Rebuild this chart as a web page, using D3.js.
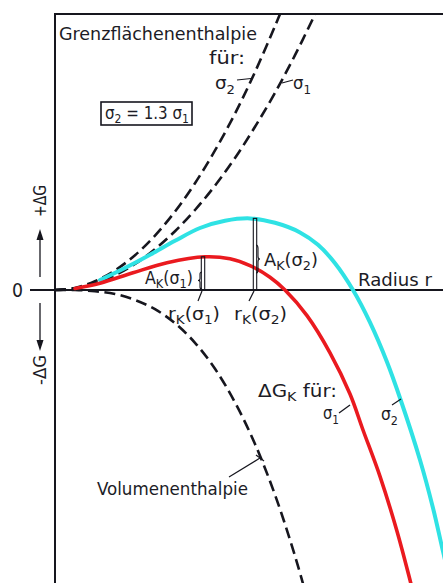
<!DOCTYPE html>
<html><head><meta charset="utf-8">
<script src="https://cdn.jsdelivr.net/npm/d3@7"></script>
<style>
html,body{margin:0;padding:0;background:#fff;}
svg{display:block;}
text{font-family:"DejaVu Sans Condensed","Liberation Sans Narrow","DejaVu Sans",sans-serif;fill:#1c1c26;}
</style></head><body>
<svg id="chart" width="443" height="583"></svg>
<script>
// Nucleation: free enthalpy ΔG versus nucleus radius r (arbitrary units)

// Interface (surface) enthalpy for σ1 and σ2 = 1.3 σ1
const rSurface1 = [0, 0.5, 1, 1.5, 2, 2.5, 3, 3.5, 4, 4.5, 5, 5.5, 6, 6.5, 6.7];
const surfaceSigma1 = [0, 0.04, 0.16, 0.37, 0.65, 1.02, 1.47, 2.0, 2.61, 3.3, 4.08, 4.93, 5.87, 6.89, 7.3];
const rSurface2 = [0, 0.5, 1, 1.5, 2, 2.5, 3, 3.5, 4, 4.5, 5, 5.5, 5.75];
const surfaceSigma2 = [0, 0.05, 0.22, 0.49, 0.87, 1.36, 1.96, 2.67, 3.49, 4.41, 5.45, 6.6, 7.2];

// Volume enthalpy (negative)
const rVolume = [0, 0.5, 1, 1.5, 2, 2.5, 3, 3.5, 4, 4.5, 5, 5.5, 6, 6.3];
const volumeEnthalpy = [0, 0, -0.03, -0.1, -0.25, -0.48, -0.83, -1.32, -1.97, -2.81, -3.85, -5.12, -6.65, -7.7];

// Total ΔG_K for σ1
const rNet1 = [0.5, 1.125, 1.95, 2.8, 3.75, 4.375, 4.875, 5.375, 5.75, 6.3, 6.875, 7.375, 7.7, 8.125, 8.55, 8.875, 9.0];
const netSigma1 = [0.04, 0.17, 0.43, 0.68, 0.83, 0.78, 0.61, 0.32, 0, -0.64, -1.57, -2.6, -3.5, -4.66, -6.03, -7.25, -7.75];

// Total ΔG_K for σ2
const rNet2 = [1.125, 1.75, 2.375, 3.0, 3.625, 4.25, 4.875, 5.5, 6.125, 6.575, 7.0, 7.45, 7.875, 8.3, 8.625, 9.125, 9.45, 9.675, 9.875];
const netSigma2 = [0.25, 0.55, 0.88, 1.23, 1.55, 1.73, 1.79, 1.68, 1.44, 1.13, 0.67, 0, -0.81, -1.8, -2.7, -4.25, -5.45, -6.425, -7.3];

// Critical radius r_K and activation barrier A_K for σ1, σ2
const rCritical = [3.7, 5.0];
const aCritical = [0.83, 1.79];

const svg = d3.select("#chart");
const x = d3.scaleLinear().domain([0, 9.7]).range([55, 443]);
const y = d3.scaleLinear().domain([-7.325, 6.9]).range([583, 14]);

svg.append("clipPath").attr("id", "plot")
  .append("rect").attr("x", x(0)).attr("y", y(6.9)).attr("width", x(9.7) - x(0)).attr("height", y(-7.325) - y(6.9));

const line = d3.line().x(d => x(d[0])).y(d => y(d[1])).curve(d3.curveCatmullRom.alpha(0.5));
const zip = (a, b) => a.map((v, i) => [v, b[i]]);

const ink = "#16161e";

// frame: top edge, left axis, zero line
svg.append("line").attr("x1", x(0)).attr("x2", 443).attr("y1", y(6.9)).attr("y2", y(6.9))
  .attr("stroke", ink).attr("stroke-width", 2);
svg.append("line").attr("x1", x(0)).attr("x2", x(0)).attr("y1", y(6.9) - 1).attr("y2", 583)
  .attr("stroke", ink).attr("stroke-width", 2);
svg.append("line").attr("x1", 30).attr("x2", 443).attr("y1", y(0)).attr("y2", y(0))
  .attr("stroke", ink).attr("stroke-width", 1.8);

const curves = svg.append("g").attr("clip-path", "url(#plot)");

// dashed component curves
[[rSurface1, surfaceSigma1], [rSurface2, surfaceSigma2], [rVolume, volumeEnthalpy]].forEach(([rs, gs]) => {
  curves.append("path").attr("d", line(zip(rs, gs)))
    .attr("fill", "none").attr("stroke", ink).attr("stroke-width", 2.6)
    .attr("stroke-dasharray", "11,5.5");
});

// A_K markers (double vertical lines from the axis to the maximum)
rCritical.forEach((rc, i) => {
  svg.append("rect")
    .attr("x", x(rc) - 1.7).attr("width", 3.4)
    .attr("y", y(aCritical[i])).attr("height", y(0) - y(aCritical[i]))
    .attr("fill", "none").attr("stroke", ink).attr("stroke-width", 1.1);
});

// ΔG_K curves
curves.append("path").attr("d", line(zip(rNet2, netSigma2)))
  .attr("fill", "none").attr("stroke", "#2fe2e4").attr("stroke-width", 4).attr("stroke-linecap", "round");
curves.append("path").attr("d", line(zip(rNet1, netSigma1)))
  .attr("fill", "none").attr("stroke", "#ea1a1f").attr("stroke-width", 3.6).attr("stroke-linecap", "round");

// text helper with subscripts
function label(px, py, parts, size, len) {
  const t = svg.append("text").attr("x", px).attr("y", py).attr("font-size", size);
  let low = false;
  parts.forEach(p => {
    const sub = typeof p !== "string";
    const ts = t.append("tspan").text(sub ? p.sub : p);
    if (sub) {
      ts.attr("font-size", size * 0.72);
      if (!low) { ts.attr("dy", size * 0.26); low = true; }
    } else if (low) { ts.attr("dy", -size * 0.26); low = false; }
  });
  if (len) t.attr("textLength", len).attr("lengthAdjust", "spacingAndGlyphs");
  return t;
}
function leader(x1, y1, x2, y2) {
  svg.append("line").attr("x1", x1).attr("y1", y1).attr("x2", x2).attr("y2", y2)
    .attr("stroke", ink).attr("stroke-width", 1.2);
}
function brace(bx, y1, y2, w, dir) {
  // dir = -1: tip points left "{", +1: tip points right "}"
  const ym = (y1 + y2) / 2, h = y2 - y1;
  const back = bx - dir * w, mid = bx - dir * w / 2, tip = bx;
  const d = `M${back},${y1} Q${mid},${y1} ${mid},${y1 + h * 0.12} L${mid},${ym - h * 0.1} Q${mid},${ym} ${tip},${ym}` +
            ` Q${mid},${ym} ${mid},${ym + h * 0.1} L${mid},${y2 - h * 0.12} Q${mid},${y2} ${back},${y2}`;
  svg.append("path").attr("d", d).attr("fill", "none").attr("stroke", ink).attr("stroke-width", 1.1);
}

// upper annotations
label(59, 40, ["Grenzflächenenthalpie"], 17, 198);
label(209, 64, ["für:"], 17, 36);
label(215, 89, ["σ", {sub: "2"}], 18, 20);
leader(237, 80, 251, 78.5);
label(293, 89, ["σ", {sub: "1"}], 18, 18);
leader(282, 83, 293, 80);

svg.append("rect").attr("x", 101).attr("y", 102).attr("width", 91).attr("height", 23)
  .attr("fill", "none").attr("stroke", ink).attr("stroke-width", 1.6);
label(105, 119, ["σ", {sub: "2"}, " = 1.3 σ", {sub: "1"}], 17, 84);

// axis labels
label(12, 297, ["0"], 19, 11);
label(358, 286, ["Radius r"], 17, 74);

svg.append("text").attr("transform", "translate(46,201) rotate(-90)")
  .attr("text-anchor", "middle").attr("font-size", 17).attr("textLength", 32)
  .attr("lengthAdjust", "spacingAndGlyphs").text("+ΔG");
svg.append("text").attr("transform", "translate(46,370) rotate(-90)")
  .attr("text-anchor", "middle").attr("font-size", 17).attr("textLength", 30)
  .attr("lengthAdjust", "spacingAndGlyphs").text("-ΔG");

// arrows next to ±ΔG
svg.append("line").attr("x1", 40).attr("x2", 40).attr("y1", 277).attr("y2", 238)
  .attr("stroke", ink).attr("stroke-width", 1.3);
svg.append("path").attr("d", "M40,229 L36.5,240 L43.5,240 Z").attr("fill", ink);
svg.append("line").attr("x1", 40).attr("x2", 40).attr("y1", 303).attr("y2", 342)
  .attr("stroke", ink).attr("stroke-width", 1.3);
svg.append("path").attr("d", "M40,351 L36.5,340 L43.5,340 Z").attr("fill", ink);

// A_K and r_K labels
label(145, 284, ["A", {sub: "K"}, "(σ", {sub: "1"}, ")"], 17, 48);
brace(x(rCritical[0]) - 5, 272, 289, 4, -1);
label(264, 266, ["A", {sub: "K"}, "(σ", {sub: "2"}, ")"], 17, 54);
brace(x(rCritical[1]) + 5, 245, 273, 4, 1);

label(168, 320, ["r", {sub: "K"}, "(σ", {sub: "1"}, ")"], 17, 52);
leader(x(rCritical[0]) - 1, y(0) + 1, x(rCritical[0]) - 5, y(0) + 11);
label(234, 320, ["r", {sub: "K"}, "(σ", {sub: "2"}, ")"], 17, 53);
leader(x(rCritical[1]) - 1, y(0) + 1, x(rCritical[1]) - 6, y(0) + 11);

// lower annotations
label(258, 397, ["ΔG", {sub: "K"}, " für:"], 17, 79);
label(323, 419, ["σ", {sub: "1"}], 18, 16);
leader(339, 413, 350, 405);
label(381, 420, ["σ", {sub: "2"}], 18, 17);
leader(392, 405, 401, 399);

label(97, 495, ["Volumenenthalpie"], 17, 151);
leader(229, 477, 260, 458);
leader(256, 455, 264, 461);
</script>
</body></html>
